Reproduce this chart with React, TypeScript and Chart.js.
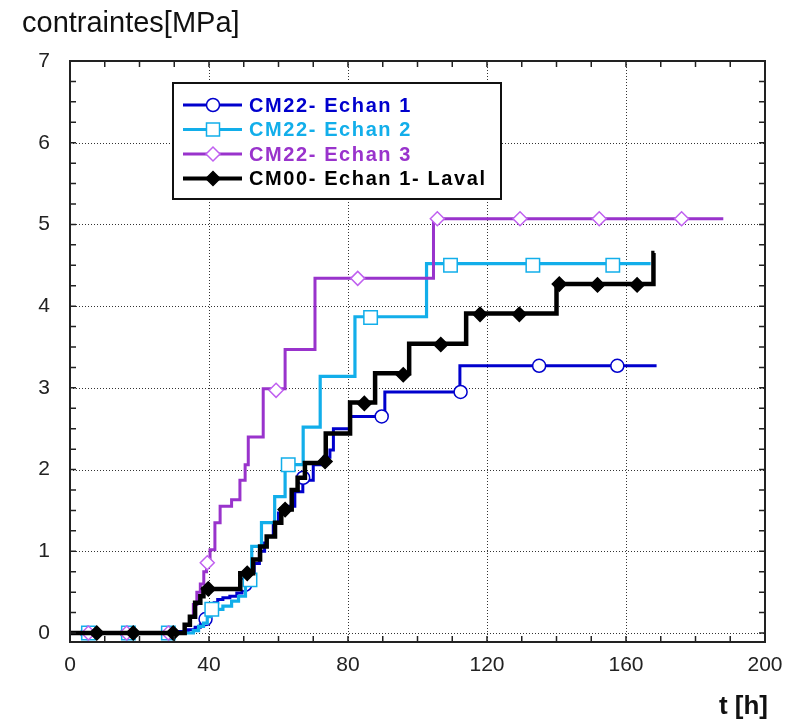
import React, { useEffect, useRef } from "react";
import { Chart, registerables } from "chart.js";
Chart.register(...registerables);

// ---------- data ----------
const xTickValues = [0, 40, 80, 120, 160, 200];
const yTickValues = [0, 1, 2, 3, 4, 5, 6, 7];
const xMinorStep = 10;
const yMinorStep = 0.25;

const seriesNames = ["CM22- Echan 1", "CM22- Echan 2", "CM22- Echan 3", "CM00- Echan 1- Laval"];
const seriesColors = ["#0000CD", "#12AEEA", "#9933CC", "#000000"];

// CM22- Echan 1 (step line: value v reached at time t)
const t1 = [0, 31.5, 34, 36, 37.5, 38.5, 39.5, 40.5, 41.5, 42.5, 44, 46, 48, 49.5, 50.5, 52, 53, 54.5, 56, 56.6, 58.5, 60, 61.5, 64.7, 67, 70, 73, 74.8, 75.8, 80.6, 90.6, 112.2, 168.8];
const v1 = [0, 0.02, 0.04, 0.07, 0.1, 0.15, 0.2, 0.3, 0.37, 0.41, 0.43, 0.45, 0.49, 0.55, 0.6, 0.75, 0.85, 1.0, 1.1, 1.18, 1.35, 1.47, 1.55, 1.73, 1.87, 2.06, 2.15, 2.24, 2.5, 2.65, 2.95, 3.27, 3.27];
const m1t = [5, 16.5, 28.5, 39, 50.4, 67.1, 89.7, 112.4, 135, 157.5];
const m1v = [0, 0, 0, 0.17, 0.59, 1.9, 2.65, 2.95, 3.27, 3.27];

// CM22- Echan 2
const t2 = [0, 32.5, 35.5, 37, 38.4, 39.5, 40.5, 44, 46.5, 48.5, 50.5, 52.3, 55.1, 58.9, 61.9, 67.1, 72, 82, 102.6, 167.1];
const v2 = [0, 0, 0.03, 0.08, 0.12, 0.2, 0.29, 0.33, 0.39, 0.45, 0.65, 1.06, 1.35, 1.67, 2.06, 2.52, 3.14, 3.87, 4.52, 4.52];
const m2t = [5.3, 16.8, 28.3, 40.8, 51.8, 62.8, 86.5, 109.5, 133.2, 156.2];
const m2v = [0, 0, 0, 0.29, 0.65, 2.06, 3.86, 4.5, 4.5, 4.5];

// CM22- Echan 3
const t3 = [0, 31, 33, 34.5, 35.5, 36.5, 37.5, 38.5, 39.3, 40.3, 41.7, 43.2, 46.5, 48.9, 50.4, 51.3, 55.6, 61.9, 70.5, 104.6, 188];
const v3 = [0, 0, 0.1, 0.2, 0.35, 0.5, 0.6, 0.75, 0.86, 1.02, 1.35, 1.55, 1.63, 1.87, 2.06, 2.4, 2.99, 3.47, 4.34, 5.07, 5.07];
const m3t = [5.3, 16.3, 28.3, 39.5, 59.3, 82.8, 105.7, 129.5, 152.3, 176];
const m3v = [0, 0, 0, 0.86, 2.97, 4.34, 5.07, 5.07, 5.07, 5.07];

// CM00- Echan 1- Laval
const t4 = [0, 31, 33, 34.5, 36, 37.5, 38.4, 49, 52.7, 54.7, 56.6, 59, 60.8, 63.8, 65.5, 67.6, 73.6, 80.6, 87.8, 97.6, 114, 140, 167.9, 168.2];
const v4 = [0, 0, 0.1, 0.2, 0.37, 0.45, 0.54, 0.73, 0.9, 1.06, 1.18, 1.35, 1.51, 1.75, 1.9, 2.08, 2.44, 2.82, 3.18, 3.54, 3.91, 4.27, 4.65, 4.65];
const m4t = [7.7, 18.2, 29.7, 39.8, 51, 61.9, 73.4, 84.7, 95.9, 106.7, 118, 129.3, 140.8, 151.8, 163.2];
const m4v = [0, 0, 0, 0.54, 0.73, 1.51, 2.1, 2.81, 3.16, 3.53, 3.9, 3.9, 4.27, 4.26, 4.26];

const yTitle = "contraintes[MPa]";
const xTitle = "t [h]";

// ---------- helpers ----------
const pts = (t: number[], v: number[]) => t.map((x, i) => ({ x, y: v[i] }));
const FONT = '"Liberation Sans", Arial, sans-serif';

const decorPlugin = {
  id: "decor",
  beforeDatasetsDraw(chart: any) {
    const { ctx, chartArea: a, scales } = chart;
    const xs = scales.x, ys = scales.y;
    ctx.save();
    ctx.strokeStyle = "#333";
    ctx.lineWidth = 1;
    ctx.setLineDash([1, 2]);
    xTickValues.forEach((v) => {
      const px = Math.round(xs.getPixelForValue(v)) + 0.5;
      if (px <= a.left + 2 || px >= a.right - 2) return;
      ctx.beginPath();
      ctx.moveTo(px, a.top);
      ctx.lineTo(px, a.bottom);
      ctx.stroke();
    });
    yTickValues.forEach((v) => {
      const py = Math.round(ys.getPixelForValue(v)) + 0.5;
      if (py <= a.top + 2 || py >= a.bottom - 2) return;
      ctx.beginPath();
      ctx.moveTo(a.left, py);
      ctx.lineTo(a.right, py);
      ctx.stroke();
    });
    ctx.restore();
  },
  afterDraw(chart: any) {
    const { ctx, chartArea: a, scales } = chart;
    const xs = scales.x, ys = scales.y;
    ctx.save();
    // ticks (inward)
    ctx.strokeStyle = "#222";
    ctx.lineWidth = 1.5;
    ctx.setLineDash([]);
    for (let v = 0; v <= 200 + 1e-6; v += xMinorStep) {
      const px = xs.getPixelForValue(v);
      if (px <= a.left + 1 || px >= a.right - 1) continue;
      ctx.beginPath();
      ctx.moveTo(px, a.bottom); ctx.lineTo(px, a.bottom - 6);
      ctx.moveTo(px, a.top); ctx.lineTo(px, a.top + 6);
      ctx.stroke();
    }
    for (let v = 0; v <= 7 + 1e-6; v += yMinorStep) {
      const py = ys.getPixelForValue(v);
      if (py <= a.top + 1 || py >= a.bottom - 1) continue;
      ctx.beginPath();
      ctx.moveTo(a.left, py); ctx.lineTo(a.left + 6, py);
      ctx.moveTo(a.right, py); ctx.lineTo(a.right - 6, py);
      ctx.stroke();
    }
    // frame
    ctx.lineWidth = 2;
    ctx.strokeStyle = "#222";
    ctx.strokeRect(a.left, a.top, a.right - a.left, a.bottom - a.top);

    // legend
    const lx = a.left + 103, ly = a.top + 22, lw = 328, lh = 116;
    ctx.fillStyle = "#fff";
    ctx.fillRect(lx, ly, lw, lh);
    ctx.strokeStyle = "#111";
    ctx.lineWidth = 2;
    ctx.strokeRect(lx, ly, lw, lh);
    const styles = ["circle", "rect", "rectRot", "rectRot"];
    seriesNames.forEach((name, i) => {
      const cy = ly + 22 + i * 24.5;
      const col = seriesColors[i];
      ctx.strokeStyle = col;
      ctx.lineWidth = i === 3 ? 4 : 3;
      ctx.beginPath();
      ctx.moveTo(lx + 10, cy);
      ctx.lineTo(lx + 69, cy);
      ctx.stroke();
      const mx = lx + 40;
      ctx.lineWidth = 1.5;
      if (styles[i] === "circle") {
        ctx.fillStyle = "#fff";
        ctx.beginPath(); ctx.arc(mx, cy, 6.5, 0, Math.PI * 2); ctx.fill(); ctx.stroke();
      } else if (styles[i] === "rect") {
        ctx.fillStyle = "#fff";
        ctx.fillRect(mx - 6.5, cy - 6.5, 13, 13); ctx.strokeRect(mx - 6.5, cy - 6.5, 13, 13);
      } else {
        ctx.fillStyle = i === 3 ? "#000" : "#fff";
        ctx.strokeStyle = i === 3 ? "#000" : "#C060F0";
        ctx.beginPath();
        ctx.moveTo(mx - 7, cy); ctx.lineTo(mx, cy - 7); ctx.lineTo(mx + 7, cy); ctx.lineTo(mx, cy + 7); ctx.closePath();
        ctx.fill(); ctx.stroke();
      }
      ctx.fillStyle = col;
      ctx.font = `bold 20px ${FONT}`;
      try { (ctx as any).letterSpacing = "1.6px"; } catch (e) {}
      ctx.textBaseline = "middle";
      ctx.textAlign = "left";
      ctx.fillText(name, lx + 76, cy + 1);
      try { (ctx as any).letterSpacing = "0px"; } catch (e) {}
    });

    // axis titles
    ctx.fillStyle = "#111";
    ctx.font = `29px ${FONT}`;
    ctx.textAlign = "left";
    ctx.textBaseline = "alphabetic";
    ctx.fillText(yTitle, 22, 32);
    ctx.font = `bold 26px ${FONT}`;
    ctx.textAlign = "right";
    ctx.fillText(xTitle, 768, 714);
    ctx.restore();
  },
};

export default function App() {
  const ref = useRef<HTMLCanvasElement | null>(null);
  useEffect(() => {
    if (!ref.current) return;
    const lineDs = (label: string, t: number[], v: number[], color: string, width: number, order: number) => ({
      label,
      data: pts(t, v),
      borderColor: color,
      backgroundColor: color,
      borderWidth: width,
      stepped: "before" as const,
      pointRadius: 0,
      fill: false,
      order,
      borderCapStyle: "butt" as const,
      borderJoinStyle: "miter" as const,
    });
    const markDs = (label: string, t: number[], v: number[], style: string, radius: number, border: string, fillC: string, order: number) => ({
      label,
      data: pts(t, v),
      showLine: false,
      pointStyle: style,
      pointRadius: radius,
      pointBorderWidth: 1.5,
      pointBorderColor: border,
      pointBackgroundColor: fillC,
      order,
    });
    const noPad = (s: any) => { s.paddingLeft = 0; s.paddingRight = 0; s.paddingTop = 0; s.paddingBottom = 0; };
    const chart = new Chart(ref.current, {
      type: "line",
      data: {
        datasets: [
          lineDs(seriesNames[0], t1, v1, seriesColors[0], 3, 8),
          markDs(seriesNames[0] + " m", m1t, m1v, "circle", 6.5, seriesColors[0], "#fff", 7),
          lineDs(seriesNames[1], t2, v2, seriesColors[1], 3.2, 6),
          markDs(seriesNames[1] + " m", m2t, m2v, "rect", 9.5, seriesColors[1], "#fff", 5),
          lineDs(seriesNames[2], t3, v3, seriesColors[2], 3, 4),
          markDs(seriesNames[2] + " m", m3t, m3v, "rectRot", 7, "#C060F0", "#fff", 3),
          lineDs(seriesNames[3], t4, v4, seriesColors[3], 4.5, 2),
          markDs(seriesNames[3] + " m", m4t, m4v, "rectRot", 7, "#000", "#000", 1),
        ] as any,
      },
      options: {
        animation: false,
        responsive: true,
        maintainAspectRatio: false,
        layout: { padding: { left: 0, right: 22, top: 61, bottom: 0 } },
        plugins: { legend: { display: false }, tooltip: { enabled: false }, title: { display: false } },
        scales: {
          x: {
            type: "linear",
            min: 0,
            max: 200,
            afterBuildTicks: (s: any) => { s.ticks = xTickValues.map((value) => ({ value })); },
            afterFit: (s: any) => { s.height = 80; noPad(s); },
            grid: { display: false, drawTicks: false },
            border: { display: false },
            ticks: { color: "#222", font: { family: FONT, size: 21 }, padding: 11, maxRotation: 0, autoSkip: false },
          },
          y: {
            type: "linear",
            min: -0.11,
            max: 7,
            afterBuildTicks: (s: any) => { s.ticks = yTickValues.map((value) => ({ value })); },
            afterFit: (s: any) => { s.width = 70; noPad(s); },
            grid: { display: false, drawTicks: false },
            border: { display: false },
            ticks: { color: "#222", font: { family: FONT, size: 21 }, padding: 20 },
          },
        },
      } as any,
      plugins: [decorPlugin],
    });
    return () => chart.destroy();
  }, []);
  return (
    <div style={{ position: "absolute", left: 0, top: 0, width: 787, height: 722, background: "#fff" }}>
      <canvas ref={ref} />
    </div>
  );
}
